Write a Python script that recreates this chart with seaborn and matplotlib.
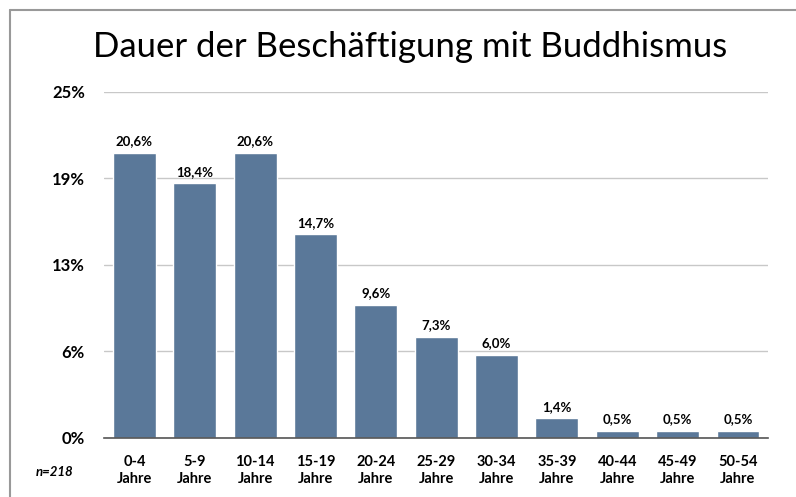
"""Dauer der Beschaeftigung mit Buddhismus - bar chart."""

import matplotlib

matplotlib.use("Agg")
import matplotlib.pyplot as plt
import pandas as pd
import seaborn as sns
from matplotlib.lines import Line2D

sns.set_theme(style="white")
plt.rcParams["font.family"] = ["Lato", "DejaVu Sans"]
plt.rcParams["text.color"] = "black"
plt.rcParams["xtick.color"] = "black"
plt.rcParams["ytick.color"] = "black"

# DATA
categories = ["0-4", "5-9", "10-14", "15-19", "20-24", "25-29",
              "30-34", "35-39", "40-44", "45-49", "50-54"]
values = [20.6, 18.4, 20.6, 14.7, 9.6, 7.3, 6.0, 1.4, 0.5, 0.5, 0.5]
value_labels = ["20,6%", "18,4%", "20,6%", "14,7%", "9,6%", "7,3%",
                "6,0%", "1,4%", "0,5%", "0,5%", "0,5%"]
y_ticks = [0, 6.25, 12.5, 18.75, 25]
y_tick_labels = ["0%", "6%", "13%", "19%", "25%"]

df = pd.DataFrame({"Dauer": [c + "\nJahre" for c in categories], "Anteil": values})

# PLOT
fig = plt.figure(figsize=(7.96, 4.97), dpi=100)
ax = fig.add_axes([0.131, 0.119, 0.834, 0.696])

sns.barplot(data=df, x="Dauer", y="Anteil", color="#5a7899", saturation=1,
            width=0.71, ax=ax, zorder=3)

ax.set_ylim(0, 25)
ax.set_xlim(-0.5, len(categories) - 0.5)
ax.set_yticks(y_ticks)
ax.set_yticklabels(y_tick_labels, fontsize=12, fontweight="bold")
ax.tick_params(axis="y", length=0, pad=14)
ax.tick_params(axis="x", length=0, pad=12, labelsize=10.5)
for lbl in ax.get_xticklabels():
    lbl.set_fontweight("bold")
    lbl.set_linespacing(1.35)
ax.yaxis.grid(True, color="#c8c8c8", linewidth=1, zorder=0)
ax.set_axisbelow(True)
ax.set(xlabel="", ylabel="")

for s in ["top", "right", "left"]:
    ax.spines[s].set_visible(False)
ax.spines["bottom"].set_color("#555555")
ax.spines["bottom"].set_linewidth(1.2)
ax.spines["bottom"].set_zorder(4)

for bar, txt in zip(ax.patches, value_labels):
    ax.annotate(txt, (bar.get_x() + bar.get_width() / 2, bar.get_height()),
                xytext=(0, 4), textcoords="offset points", ha="center",
                va="bottom", fontsize=9.5, fontweight="bold")

fig.text(0.515, 0.905, "Dauer der Beschäftigung mit Buddhismus",
         ha="center", va="center", fontsize=25)
fig.text(0.069, 0.05, "n=218", ha="center", va="center", fontsize=9.5,
         style="italic", fontweight="bold")

# frame
fig.add_artist(Line2D([0.0126, 0.0126], [0.0, 0.98], color="#999999", lw=1.5))
fig.add_artist(Line2D([0.0126, 1.0], [0.98, 0.98], color="#999999", lw=1.5))

plt.savefig("out.png", dpi=100)
